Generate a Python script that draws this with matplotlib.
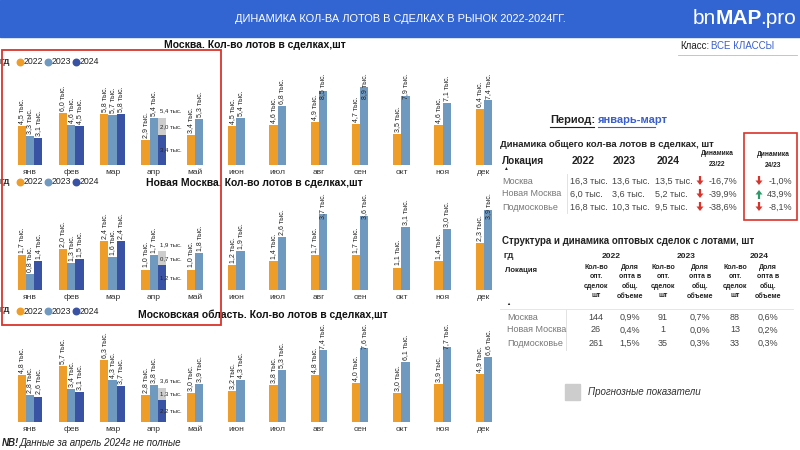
import matplotlib
matplotlib.use("Agg")
import matplotlib.pyplot as plt
from matplotlib.patches import Rectangle, FancyArrow

plt.rcParams['font.family'] = ['Liberation Sans', 'DejaVu Sans']

# ---------------- data ----------------
months = ['янв', 'фев', 'мар', 'апр', 'май', 'июн', 'июл', 'авг', 'сен', 'окт', 'ноя', 'дек']
years = ['2022', '2023', '2024']

msk_2022 = [4.5, 6.0, 5.8, 2.9, 3.4, 4.5, 4.6, 4.9, 4.7, 3.5, 4.6, 6.4]
msk_2023 = [3.3, 4.6, 5.7, 5.4, 5.3, 5.4, 6.8, 8.5, 8.9, 7.9, 7.1, 7.4]
msk_2024 = [3.1, 4.5, 5.8, 3.4]
msk_2024_forecast = 2.0
msk_2024_total = 5.4

nm_2022 = [1.7, 2.0, 2.4, 1.0, 1.0, 1.2, 1.4, 1.7, 1.7, 1.1, 1.4, 2.3]
nm_2023 = [0.8, 1.3, 1.6, 1.7, 1.8, 1.9, 2.6, 3.7, 3.6, 3.1, 3.0, 3.9]
nm_2024 = [1.4, 1.5, 2.4, 1.2]
nm_2024_forecast = 0.7
nm_2024_total = 1.9

obl_2022 = [4.8, 5.7, 6.3, 2.8, 3.0, 3.2, 3.8, 4.8, 4.0, 3.0, 3.9, 4.9]
obl_2023 = [2.8, 3.4, 4.3, 3.8, 3.9, 4.3, 5.3, 7.4, 7.6, 6.1, 7.7, 6.6]
obl_2024 = [2.6, 3.1, 3.7, 2.2]
obl_2024_forecast = 1.3
obl_2024_total = 3.6

locations = ['Москва', 'Новая Москва', 'Подмосковье']
tot_2022 = [16.3, 6.0, 16.8]
tot_2023 = [13.6, 3.6, 10.3]
tot_2024 = [13.5, 5.2, 9.5]
dyn_23_22 = [-16.7, -39.9, -38.6]
dyn_24_23 = [-1.0, 43.9, -8.1]

wh_count_2022 = [144, 26, 261]
wh_share_2022 = [0.9, 0.4, 1.5]
wh_count_2023 = [91, 1, 35]
wh_share_2023 = [0.7, 0.0, 0.3]
wh_count_2024 = [88, 13, 33]
wh_share_2024 = [0.6, 0.2, 0.3]

# ---------------- style ----------------
C22 = '#EE9E28'
C23 = '#7099C0'
C24 = '#3A52A3'
CFC = '#CDCDCD'
BLUE_HDR = '#3264D2'
TXT = '#222222'
GREY_TXT = '#777777'
RED = '#D9342B'
GREEN = '#2E9A6A'

W, H = 800, 450
fig = plt.figure(figsize=(8, 4.5), dpi=100)
fig.patch.set_facecolor('white')


def add_ax(left, bottom, width, height):
    return fig.add_axes([left / W, 1 - bottom / H, width / W, height / H])


def fmt(v):
    return f"{v:.1f}".replace('.', ',') + " тыс."


LABEL_PX = 26


def chart(ax, y22, y23, y24, fc, tot, ytop, height_px, cap_px):
    """cap_px: highest allowed label top, in px above the baseline."""
    ppu = height_px / ytop
    cap = cap_px / ppu
    bw = 0.2

    def vlabel(x, v):
        if (v * ppu + 2 + LABEL_PX) > cap_px:
            ax.text(x, cap, fmt(v), rotation=90, ha='center', va='top', fontsize=5,
                    color=TXT, zorder=4)
        else:
            ax.annotate(fmt(v), (x, v), xytext=(0, 1.5), textcoords='offset points',
                        rotation=90, ha='center', va='bottom', fontsize=5, color=TXT)

    for i in range(12):
        if i < len(y24):
            xs = [i - bw, i, i + bw]
        else:
            xs = [i - bw / 2, i + bw / 2]
        ax.bar(xs[0], y22[i], bw, color=C22, zorder=2)
        vlabel(xs[0], y22[i])
        ax.bar(xs[1], y23[i], bw, color=C23, zorder=2)
        vlabel(xs[1], y23[i])
        if i < len(y24):
            ax.bar(xs[2], y24[i], bw, color=C24, zorder=2)
            if i == len(y24) - 1:
                ax.bar(xs[2], fc, bw, bottom=y24[i], color=CFC, zorder=2)
                x0 = xs[2] - bw / 2 + 0.04
                ax.text(x0, y24[i] / 2, fmt(y24[i]), fontsize=4.3, color=TXT,
                        ha='left', va='center', zorder=3)
                ax.text(x0, y24[i] + fc / 2, fmt(fc), fontsize=4.3, color=TXT,
                        ha='left', va='center', zorder=3)
                ax.annotate(fmt(tot), (x0, y24[i] + fc), xytext=(0, 3),
                            textcoords='offset points', fontsize=4.3, color=TXT,
                            ha='left', va='bottom', zorder=3)
            else:
                vlabel(xs[2], y24[i])
    ax.set_xlim(-0.5, 11.5)
    ax.set_ylim(0, ytop)
    ax.set_xticks(range(12))
    ax.set_xticklabels(months, fontsize=6, color='#333333')
    ax.tick_params(axis='x', length=0, pad=3)
    ax.set_yticks([])
    for s in ax.spines.values():
        s.set_visible(False)
    ax.patch.set_alpha(0)


ax1 = add_ax(9.4, 165, 495.2, 110)
chart(ax1, msk_2022, msk_2023, msk_2024, msk_2024_forecast, msk_2024_total, 12.6, 110, 92)
ax2 = add_ax(9.4, 290, 495.2, 95)
chart(ax2, nm_2022, nm_2023, nm_2024, nm_2024_forecast, nm_2024_total, 4.65, 95, 97)
ax3 = add_ax(9.4, 422, 495.2, 92)
chart(ax3, obl_2022, obl_2023, obl_2024, obl_2024_forecast, obl_2024_total, 9.4, 92, 99)

# ---------------- overlay in pixel coordinates ----------------
ov = fig.add_axes([0, 0, 1, 1])
ov.set_xlim(0, W)
ov.set_ylim(H, 0)
ov.axis('off')
ov.patch.set_visible(False)

# header
ov.add_patch(Rectangle((0, 0), W, 37, color=BLUE_HDR, zorder=0))
ov.text(400, 19, 'ДИНАМИКА КОЛ-ВА ЛОТОВ В СДЕЛКАХ В РЫНОК 2022-2024ГГ.',
        fontsize=7.9, color='white', ha='center', va='center')
ov.text(693, 19, 'bn', fontsize=15, color='white', ha='left', va='center')
ov.text(716, 19, 'MAP', fontsize=15, color='white', ha='left', va='center', weight='bold')
ov.text(760, 19, '.pro', fontsize=15, color='white', ha='left', va='center')

# chart titles
ov.text(255, 45, 'Москва. Кол-во лотов в сделках,шт', fontsize=7.5, weight='bold',
        ha='center', va='center', color='#111111')
ov.text(254, 183, 'Новая Москва. Кол-во лотов в сделках,шт', fontsize=7.5, weight='bold',
        ha='center', va='center', color='#111111')
ov.text(263, 315, 'Московская область. Кол-во лотов в сделках,шт', fontsize=7.5,
        weight='bold', ha='center', va='center', color='#111111')

# legends
for ly in (62, 182, 311):
    ov.text(0, ly, 'ГД', fontsize=6, weight='bold', ha='left', va='center', color=TXT)
    for k, (yr, c) in enumerate(zip(years, [C22, C23, C24])):
        x = 20 + k * 28
        ov.scatter([x], [ly], s=22, color=c, zorder=3)
        ov.text(x + 4, ly, yr, fontsize=6.3, ha='left', va='center', color=TXT)

# red box around first months
ov.add_patch(Rectangle((1.5, 50), 219.5, 275, fill=False, edgecolor=RED, lw=1.3, zorder=5))

# class selector
ov.text(680, 46, 'Класс:', fontsize=7, ha='left', va='center', color=TXT)
ov.text(711, 46, 'ВСЕ КЛАССЫ', fontsize=7, ha='left', va='center', color='#3A5FCD')
ov.plot([678, 797], [55, 55], color='#BBBBBB', lw=0.6)

# period
ov.text(550, 120, 'Период:', fontsize=8, weight='bold', ha='left', va='center', color=TXT)
ov.text(598, 120, 'январь-март', fontsize=8, weight='bold', ha='left', va='center',
        color='#3A5FCD')
ov.plot([550, 594], [127, 127], color=TXT, lw=0.8)
ov.plot([598, 655], [127, 127], color='#3A5FCD', lw=0.8)

# table 1
ov.text(500, 144, 'Динамика общего кол-ва лотов в сделках, шт', fontsize=6.8, weight='bold',
        ha='left', va='center', color=TXT)
ov.text(502, 161, 'Локация', fontsize=7.2, weight='bold', ha='left', va='center', color=TXT)
ov.text(503, 169, '▲', fontsize=3.5, ha='left', va='center', color=TXT)
for x, yr in zip([572, 613, 657], years):
    ov.text(x, 161, yr, fontsize=7.5, weight='bold', ha='left', va='center', color=TXT)
ov.text(717, 159, 'Динамика\n23/22', fontsize=4.8, weight='bold', ha='center', va='center',
        color=TXT, linespacing=1.7)
ov.text(773, 160, 'Динамика\n24/23', fontsize=4.8, weight='bold', ha='center', va='center',
        color=TXT, linespacing=1.8)
ov.add_patch(Rectangle((743.5, 133), 53, 87, fill=False, edgecolor=RED, lw=1.2, zorder=5))
ov.plot([567, 567], [174, 213], color='#DDDDDD', lw=0.6)
for r, loc in enumerate(locations):
    y = 181 + r * 13
    ov.text(502, y, loc, fontsize=6.5, color=GREY_TXT, ha='left', va='center')
    ov.text(570, y, fmt(tot_2022[r]), fontsize=6.5, color='#444444', ha='left', va='center')
    ov.text(612, y, fmt(tot_2023[r]), fontsize=6.5, color='#444444', ha='left', va='center')
    ov.text(655, y, fmt(tot_2024[r]), fontsize=6.5, color='#444444', ha='left', va='center')
    for xa, xv, v in ((700, 737, dyn_23_22[r]), (759, 792, dyn_24_23[r])):
        up = v > 0
        col = GREEN if up else RED
        if up:
            ov.add_patch(FancyArrow(xa, y + 5, 0, -9, width=2.2, head_width=7,
                                    head_length=4.5, length_includes_head=True,
                                    color=col, lw=0))
        else:
            ov.add_patch(FancyArrow(xa, y - 5, 0, 9, width=2.2, head_width=7,
                                    head_length=4.5, length_includes_head=True,
                                    color=col, lw=0))
        ov.text(xv, y, f"{v:.1f}%".replace('.', ','), fontsize=6.5, color='#444444',
                ha='right', va='center')

# table 2
ov.text(502, 241, 'Структура и динамика оптовых сделок с лотами, шт', fontsize=7,
        weight='bold', ha='left', va='center', color=TXT)
ov.text(504, 257, 'ГД', fontsize=6, weight='bold', ha='left', va='center', color=TXT)
for x, yr in zip([611, 686, 759], years):
    ov.text(x, 257, yr, fontsize=6, weight='bold', ha='center', va='center', color=TXT)
ov.text(505, 271, 'Локация', fontsize=5.5, weight='bold', ha='left', va='center', color=TXT)
ov.text(506, 304, '▲', fontsize=3, ha='left', va='center', color=TXT)
col_x = [596, 630, 663, 700, 735, 768]
for k, x in enumerate(col_x):
    lab = 'Кол-во\nопт.\nсделок\nшт' if k % 2 == 0 else 'Доля\nопта в\nобщ.\nобъеме'
    ov.text(x, 264, lab, fontsize=5, weight='bold', ha='center', va='top', color=TXT,
            linespacing=1.45)
ov.plot([500, 793], [309, 309], color='#E2E2E2', lw=0.6)
ov.plot([566, 566], [310, 350], color='#DDDDDD', lw=0.6)
cols = [wh_count_2022, wh_share_2022, wh_count_2023, wh_share_2023, wh_count_2024,
        wh_share_2024]
for r, loc in enumerate(locations):
    y = 317 + r * 13
    ov.text(507, y, loc, fontsize=6.5, color=GREY_TXT, ha='left', va='center')
    for k, x in enumerate(col_x):
        v = cols[k][r]
        s = str(v) if k % 2 == 0 else f"{v:.1f}%".replace('.', ',')
        ov.text(x, y, s, fontsize=6.5, color='#444444', ha='center', va='center')

# forecast legend
ov.add_patch(Rectangle((565, 384), 15, 16, color=CFC))
ov.text(588, 392, 'Прогнозные показатели', fontsize=7, style='italic', ha='left',
        va='center', color='#333333')

# footnote
ov.text(2, 443, 'NB!', fontsize=7, style='italic', weight='bold', ha='left', va='center',
        color=TXT)
ov.text(20, 443, 'Данные за апрель 2024г не полные', fontsize=7, style='italic',
        ha='left', va='center', color=TXT)

fig.savefig('out.png', dpi=100)
